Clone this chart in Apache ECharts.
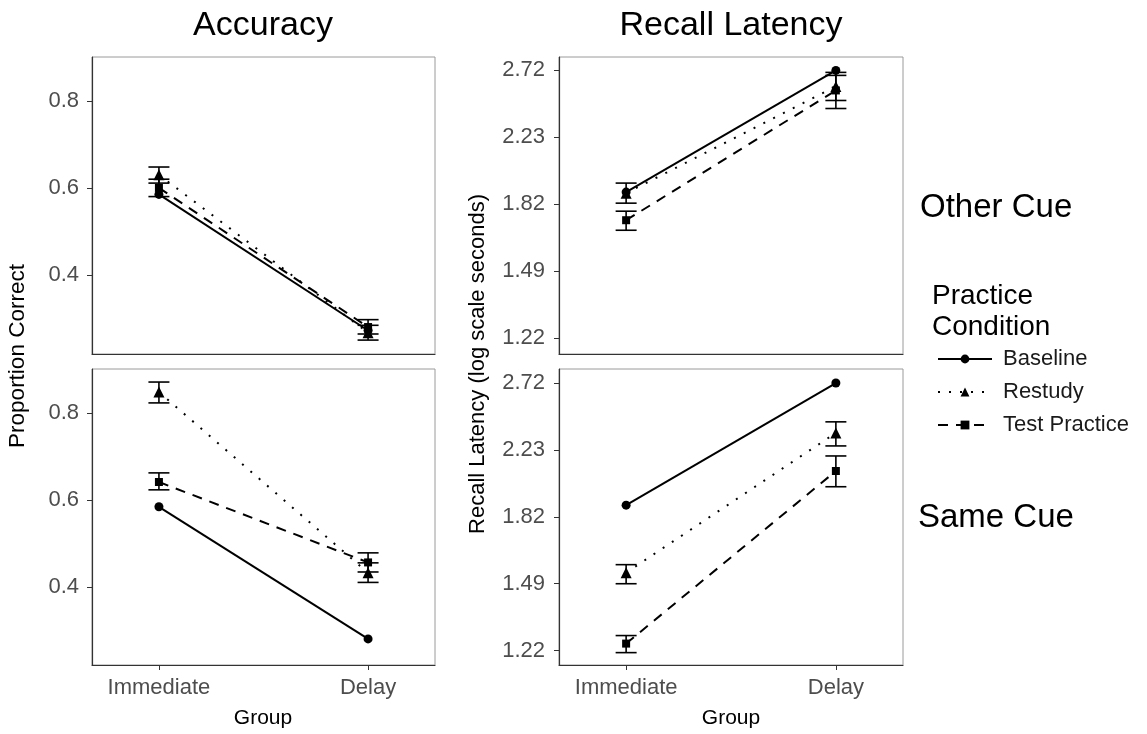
<!DOCTYPE html>
<html>
<head>
<meta charset="utf-8">
<title>Accuracy / Recall Latency</title>
<script src="https://cdn.jsdelivr.net/npm/echarts@6/dist/echarts.min.js"></script>
<style>
html,body{margin:0;padding:0;background:#fff;}
#main{width:1147px;height:734px;}
</style>
</head>
<body>
<div id="main"></div>
<script>
//x分组与图例
var groups = ['Immediate', 'Delay'];
var conditions = ['Baseline', 'Restudy', 'Test Practice'];
var accTicks = [0.4, 0.6, 0.8];
var latTicks = [0.2, 0.4, 0.6, 0.8, 1.0];//log seconds, shown as exp()

//Accuracy - Other Cue
var accOtherBaseline = [0.585, 0.272];
var accOtherRestudy = [0.630, 0.267];
var accOtherTest = [0.600, 0.280];
var accOtherRestudyErr = [[0.611, 0.648], [0.250, 0.284]];
var accOtherTestErr = [[0.580, 0.620], [0.264, 0.297]];

//Accuracy - Same Cue
var accSameBaseline = [0.584, 0.280];
var accSameRestudy = [0.848, 0.432];
var accSameTest = [0.641, 0.456];
var accSameRestudyErr = [[0.823, 0.871], [0.410, 0.455]];
var accSameTestErr = [[0.623, 0.662], [0.434, 0.478]];

//Recall Latency (log seconds) - Other Cue
var latOtherBaseline = [0.636, 1.000];
var latOtherRestudy = [0.633, 0.952];
var latOtherTest = [0.552, 0.940];
var latOtherRestudyErr = [[0.603, 0.663], [0.910, 0.994]];
var latOtherTestErr = [[0.522, 0.579], [0.886, 0.985]];

//Recall Latency (log seconds) - Same Cue
var latSameBaseline = [0.635, 1.000];
var latSameRestudy = [0.433, 0.851];
var latSameTest = [0.221, 0.737];
var latSameRestudyErr = [[0.400, 0.457], [0.812, 0.884]];
var latSameTestErr = [[0.194, 0.245], [0.690, 0.782]];

var FONT = '"Liberation Sans", Arial, Helvetica, sans-serif';
var chart = echarts.init(document.getElementById('main'));

//线型
var styles = {
	'Baseline': {symbol: 'circle', size: 9, type: 'solid'},
	'Restudy': {symbol: 'triangle', size: 11, type: [2, 9]},
	'Test Practice': {symbol: 'rect', size: 8, type: [10, 8]}
};

function toPairs(arr){
	return arr.map(function(v, i){ return [i, v]; });
}

function lineSeries(name, gi, values){
	var s = styles[name];
	return {
		name: name,
		type: 'line',
		xAxisIndex: gi,
		yAxisIndex: gi,
		data: toPairs(values),
		symbol: s.symbol,
		symbolSize: s.size,
		showSymbol: true,
		lineStyle: {color: '#000', width: 2, type: s.type},
		itemStyle: {color: '#000'},
		z: 3
	};
}

//误差线
function errSeries(gi, err){
	return {
		type: 'custom',
		xAxisIndex: gi,
		yAxisIndex: gi,
		data: err.map(function(e, i){ return [i, e[0], e[1]]; }),
		encode: {x: 0, y: [1, 2]},
		z: 4,
		renderItem: function(params, api){
			var x = api.value(0);
			var lo = api.coord([x, api.value(1)]);
			var hi = api.coord([x, api.value(2)]);
			var w = 10.5;
			var st = {stroke: '#000', lineWidth: 1.6};
			return {type: 'group', children: [
				{type: 'line', shape: {x1: lo[0], y1: lo[1], x2: hi[0], y2: hi[1]}, style: st},
				{type: 'line', shape: {x1: lo[0] - w, y1: lo[1], x2: lo[0] + w, y2: lo[1]}, style: st},
				{type: 'line', shape: {x1: hi[0] - w, y1: hi[1], x2: hi[0] + w, y2: hi[1]}, style: st}
			]};
		}
	};
}

function panel(gi, b, r, t, rErr, tErr){
	return [
		lineSeries('Baseline', gi, b),
		lineSeries('Restudy', gi, r),
		lineSeries('Test Practice', gi, t),
		errSeries(gi, rErr),
		errSeries(gi, tErr)
	];
}

var grids = [
	{left: 92, top: 57, width: 343, height: 297},
	{left: 92, top: 369, width: 343, height: 296},
	{left: 559, top: 57, width: 344, height: 297},
	{left: 559, top: 369, width: 344, height: 296}
].map(function(g){
	g.show = true;
	g.borderColor = '#9a9a9a';
	g.borderWidth = 1;
	g.backgroundColor = 'transparent';
	return g;
});

function xAxis(gi, showLabels){
	return {
		type: 'value',
		gridIndex: gi,
		min: -0.32,
		max: 1.32,
		axisLine: {show: true, onZero: false, lineStyle: {color: '#333', width: 1.2}},
		axisTick: {show: showLabels, length: 5, customValues: [0, 1], lineStyle: {color: '#333'}},
		axisLabel: {
			show: showLabels,
			customValues: [0, 1],
			margin: 12,
			fontSize: 22,
			fontFamily: FONT,
			color: '#4d4d4d',
			formatter: function(v){ return groups[Math.round(v)]; }
		},
		splitLine: {show: false}
	};
}

function yAxis(gi, min, max, ticks, fmt, margin){
	return {
		type: 'value',
		gridIndex: gi,
		min: min,
		max: max,
		axisLine: {show: true, onZero: false, lineStyle: {color: '#333', width: 1.2}},
		axisTick: {show: true, length: 5, customValues: ticks, lineStyle: {color: '#333'}},
		axisLabel: {
			customValues: ticks,
			margin: margin,
			fontSize: 22,
			fontFamily: FONT,
			color: '#4d4d4d',
			formatter: fmt
		},
		splitLine: {show: false}
	};
}

var accFmt = function(v){ return v.toFixed(1); };
var latFmt = function(v){ return Math.exp(v).toFixed(2); };

var series = [].concat(
	panel(0, accOtherBaseline, accOtherRestudy, accOtherTest, accOtherRestudyErr, accOtherTestErr),
	panel(1, accSameBaseline, accSameRestudy, accSameTest, accSameRestudyErr, accSameTestErr),
	panel(2, latOtherBaseline, latOtherRestudy, latOtherTest, latOtherRestudyErr, latOtherTestErr),
	panel(3, latSameBaseline, latSameRestudy, latSameTest, latSameRestudyErr, latSameTestErr)
);

function txt(text, x, y, size, opts){
	opts = opts || {};
	return {
		type: 'text',
		x: x,
		y: y,
		rotation: opts.rotation || 0,
		style: {
			text: text,
			x: 0,
			y: 0,
			align: opts.align || 'center',
			verticalAlign: 'middle',
			fontSize: size,
			fontFamily: FONT,
			fill: opts.color || '#000'
		}
	};
}

var option = {
	animation: false,
	backgroundColor: '#fff',
	grid: grids,
	xAxis: [xAxis(0, false), xAxis(1, true), xAxis(2, false), xAxis(3, true)],
	yAxis: [
		yAxis(0, 0.218, 0.901, accTicks, accFmt, 13),
		yAxis(1, 0.220, 0.901, accTicks, accFmt, 13),
		yAxis(2, 0.152, 1.040, latTicks, latFmt, 14),
		yAxis(3, 0.157, 1.042, latTicks, latFmt, 14)
	],
	legend: {
		data: conditions,
		orient: 'vertical',
		left: 937,
		top: 348,
		padding: 0,
		itemWidth: 54,
		itemHeight: 11,
		itemGap: 11,
		textStyle: {fontSize: 22, fontFamily: FONT, color: '#1a1a1a', padding: [0, 0, 0, 6]}
	},
	graphic: [
		txt('Accuracy', 263, 26, 34),
		txt('Recall Latency', 731, 26, 34),
		txt('Other Cue', 920, 208, 33, {align: 'left'}),
		txt('Same Cue', 918, 518, 33, {align: 'left'}),
		txt('Practice', 932, 296, 28, {align: 'left'}),
		txt('Condition', 932, 327, 28, {align: 'left'}),
		txt('Proportion Correct', 18, 356, 22.5, {rotation: Math.PI / 2}),
		txt('Recall Latency (log scale seconds)', 478, 364, 22, {rotation: Math.PI / 2}),
		txt('Group', 263, 718, 21),
		txt('Group', 731, 718, 21)
	],
	series: series
};

chart.setOption(option);
</script>
</body>
</html>
